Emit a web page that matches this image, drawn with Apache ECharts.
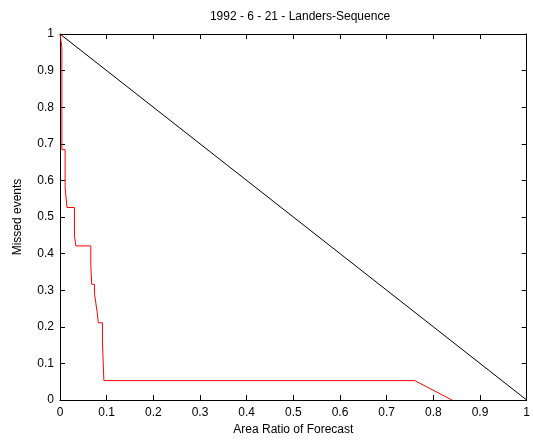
<!DOCTYPE html>
<html>
<head>
<meta charset="utf-8">
<script src="https://cdn.jsdelivr.net/npm/echarts@6/dist/echarts.min.js"></script>
<style>html,body{margin:0;padding:0;background:#fff}#c{width:533px;height:441px}</style>
</head>
<body>
<div id="c"></div>
<script>
var titleText = "1992 - 6 - 21 - Landers-Sequence";
var xName = "Area Ratio of Forecast";
var yName = "Missed events";
var redX = [0, 0.004, 0.004, 0.011, 0.011, 0.015, 0.015, 0.031, 0.031, 0.034, 0.034, 0.066, 0.066, 0.068, 0.068, 0.074, 0.074, 0.077, 0.077, 0.080, 0.080, 0.082, 0.082, 0.091, 0.091, 0.094, 0.094, 0.76, 0.84];
var redY = [1, 0.963, 0.684, 0.684, 0.579, 0.579, 0.526, 0.526, 0.447, 0.447, 0.421, 0.421, 0.368, 0.368, 0.316, 0.316, 0.289, 0.289, 0.263, 0.263, 0.237, 0.237, 0.211, 0.211, 0.158, 0.158, 0.053, 0.053, 0];
var diagX = [0, 1];
var diagY = [1, 0];

var font = "Liberation Sans, Arial, sans-serif";
function pairs(xs, ys){ return xs.map(function(v,i){return [v, ys[i]];}); }
function fmt(v){ return (v === 0 || v === 1) ? String(v) : String(+v.toFixed(1)); }

var chart = echarts.init(document.getElementById('c'), null, {renderer:'canvas'});
var axisCommon = {
  type: 'value', min: 0, max: 1, interval: 0.1,
  axisLine: {show: true, onZero: false, lineStyle: {color: '#000', width: 1}},
  axisTick: {show: true, inside: true, length: 5, lineStyle: {color: '#000'}},
  splitLine: {show: false}
};
chart.setOption({
  animation: false,
  backgroundColor: '#fff',
  title: {text: titleText, left: 295, top: 6, textAlign: 'center',
    textStyle: {fontFamily: font, fontSize: 12, fontWeight: 'normal', color: '#000'}},
  grid: {left: 60, right: 3, top: 34, bottom: 37, containLabel: false},
  xAxis: [
    Object.assign({}, axisCommon, {position: 'bottom',
      name: xName, nameLocation: 'middle', nameGap: 24,
      nameTextStyle: {fontFamily: font, fontSize: 12, color: '#000'},
      axisLabel: {show: true, margin: 7, color: '#000', fontFamily: font, fontSize: 12, formatter: fmt}}),
    Object.assign({}, axisCommon, {position: 'top', axisLabel: {show: false}})
  ],
  yAxis: [
    Object.assign({}, axisCommon, {position: 'left',
      name: yName, nameLocation: 'middle', nameGap: 36, nameRotate: 90,
      nameTextStyle: {fontFamily: font, fontSize: 12, color: '#000'},
      axisLabel: {show: true, margin: 6, color: '#000', fontFamily: font, fontSize: 12, formatter: fmt}}),
    Object.assign({}, axisCommon, {position: 'right', axisLabel: {show: false}})
  ],
  series: [
    {type: 'line', data: pairs(diagX, diagY), showSymbol: false, symbol: 'none',
      lineStyle: {color: '#000', width: 1}, z: 2},
    {type: 'line', data: pairs(redX, redY), showSymbol: false, symbol: 'none',
      lineStyle: {color: '#ff0000', width: 1}, z: 3}
  ]
});
</script>
</body>
</html>
